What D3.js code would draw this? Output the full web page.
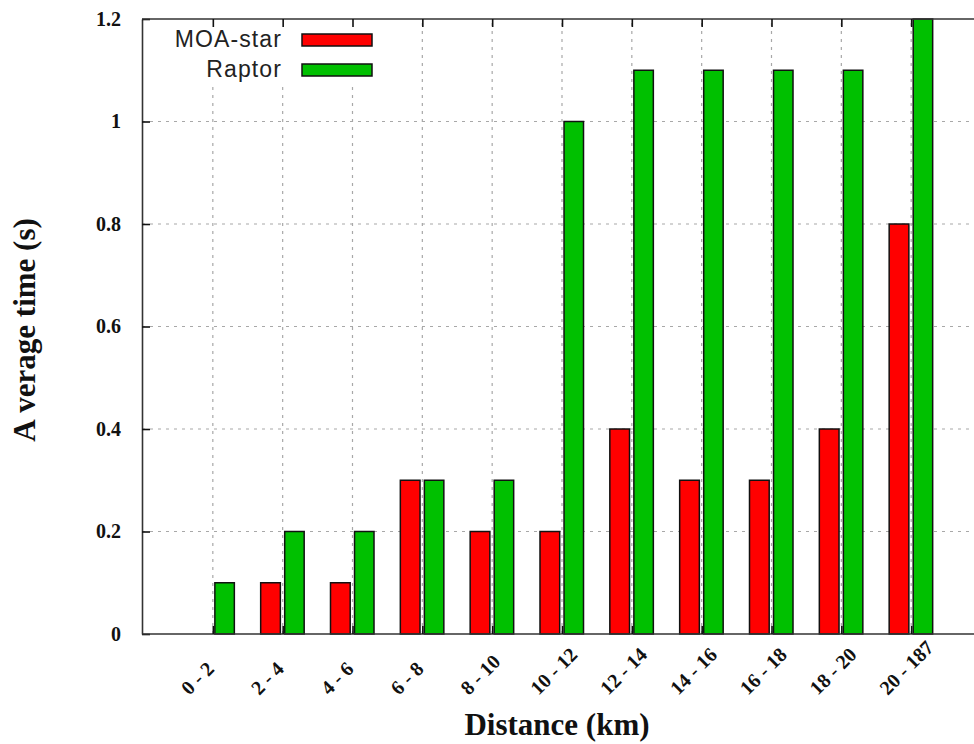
<!DOCTYPE html>
<html>
<head>
<meta charset="utf-8">
<script src="https://cdn.jsdelivr.net/npm/d3@7"></script>
<style>
  html, body { margin: 0; padding: 0; background: #fff; }
  svg { display: block; }
</style>
</head>
<body>
<svg id="chart" width="974" height="744"></svg>
<script>
// Distance buckets and average query time per planner
const categories = ["0 - 2", "2 - 4", "4 - 6", "6 - 8", "8 - 10", "10 - 12",
                    "12 - 14", "14 - 16", "16 - 18", "18 - 20", "20 - 187"];
const moaStar = [0, 0.1, 0.1, 0.3, 0.2, 0.2, 0.4, 0.3, 0.3, 0.4, 0.8];
const raptor  = [0.1, 0.2, 0.2, 0.3, 0.3, 1.0, 1.1, 1.1, 1.1, 1.1, 1.2];
const yTicks  = [0, 0.2, 0.4, 0.6, 0.8, 1, 1.2];
const seriesNames = ["MOA-star", "Raptor"];
const seriesColors = ["#ff0000", "#00c000"];

const svg = d3.select("#chart");
const plotLeft = 142, plotTop = 19, plotBottom = 634, plotRight = 981;

const x = d3.scaleLinear().domain([-1, 11]).range([plotLeft + 1, plotRight]);
const y = d3.scaleLinear().domain([0, 1.2]).range([plotBottom, plotTop]);
const idx = categories.map((_, i) => i);

const gridColor = "#a8a8a8";
const frameColor = "#333";

// dashed grid
const grid = svg.append("g");
grid.selectAll("line.h").data(yTicks.filter(v => v > 0 && v < 1.2)).join("line")
  .attr("x1", plotLeft).attr("x2", 974)
  .attr("y1", d => y(d)).attr("y2", d => y(d))
  .attr("stroke", gridColor).attr("stroke-width", 1.2).attr("stroke-dasharray", "3,5");
grid.selectAll("line.v").data(idx).join("line")
  .attr("x1", d => x(d)).attr("x2", d => x(d))
  .attr("y1", plotBottom).attr("y2", plotTop)
  .attr("stroke", gridColor).attr("stroke-width", 1.2).attr("stroke-dasharray", "3,5");

// bars
const offsets = [[-0.315, -0.033], [0.029, 0.308]];
[moaStar, raptor].forEach((vals, s) => {
  svg.append("g").selectAll("rect").data(vals.map((v, i) => ({v, i})).filter(d => d.v > 0)).join("rect")
    .attr("x", d => x(d.i + offsets[s][0]))
    .attr("width", d => x(d.i + offsets[s][1]) - x(d.i + offsets[s][0]))
    .attr("y", d => y(d.v))
    .attr("height", d => y(0) - y(d.v))
    .attr("fill", seriesColors[s])
    .attr("stroke", "#111").attr("stroke-width", 1.5);
});

// legend (opaque box over the grid)
const legend = svg.append("g");
legend.append("rect").attr("x", plotLeft + 1).attr("y", plotTop + 1)
  .attr("width", 240).attr("height", 64).attr("fill", "#fff");
seriesNames.forEach((name, s) => {
  const yy = 34 + s * 30;
  legend.append("text").attr("x", 282).attr("y", yy + 12.5)
    .attr("text-anchor", "end")
    .attr("font-family", "Liberation Sans, Arial, sans-serif").attr("font-size", 23)
    .attr("letter-spacing", 1.1)
    .attr("fill", "#222").text(name);
  legend.append("rect").attr("x", 302).attr("y", yy)
    .attr("width", 70).attr("height", 12)
    .attr("fill", seriesColors[s]).attr("stroke", "#111").attr("stroke-width", 1.5);
});

// axes
const fmt = d3.format("~g");
const yAxis = svg.append("g").attr("transform", `translate(${plotLeft},0)`)
  .call(d3.axisLeft(y).tickValues(yTicks).tickFormat(fmt)
        .tickSizeInner(-8).tickSizeOuter(0).tickPadding(21));
yAxis.selectAll("text").attr("font-family", "Liberation Serif, serif")
  .attr("font-weight", "bold").attr("font-size", 20).attr("fill", "#111");

const xAxis = svg.append("g").attr("transform", `translate(0,${plotBottom})`)
  .call(d3.axisBottom(x).tickValues(idx).tickFormat(i => categories[i])
        .tickSizeInner(-8).tickSizeOuter(0).tickPadding(0));
xAxis.select(".domain").attr("d", `M${plotLeft},0H974`);
xAxis.selectAll(".tick text")
  .attr("font-family", "Liberation Serif, serif").attr("font-weight", "bold")
  .attr("font-size", 20).attr("fill", "#111")
  .attr("text-anchor", "start").attr("dy", null).attr("y", null)
  .attr("transform", "translate(-24,62) rotate(-45)");

const topAxis = svg.append("g").attr("transform", `translate(0,${plotTop})`)
  .call(d3.axisTop(x).tickValues(idx).tickFormat("")
        .tickSizeInner(-8).tickSizeOuter(0));
topAxis.select(".domain").attr("d", `M${plotLeft},0H974`);

svg.selectAll(".domain").attr("stroke", frameColor).attr("stroke-width", 1.6);
svg.selectAll(".tick line").attr("stroke", "#111").attr("stroke-width", 1.6);

// axis titles
svg.append("text").attr("x", 557).attr("y", 735).attr("text-anchor", "middle")
  .attr("font-family", "Liberation Serif, serif").attr("font-weight", "bold")
  .attr("font-size", 31).attr("fill", "#111").text("Distance (km)");
const yTitle = svg.append("text").attr("transform", "translate(35,330) rotate(-90)")
  .attr("text-anchor", "middle")
  .attr("font-family", "Liberation Serif, serif").attr("font-weight", "bold")
  .attr("font-size", 31).attr("fill", "#111");
yTitle.append("tspan").text("A");
yTitle.append("tspan").attr("dx", 9).text("verage time (s)");
</script>
</body>
</html>
